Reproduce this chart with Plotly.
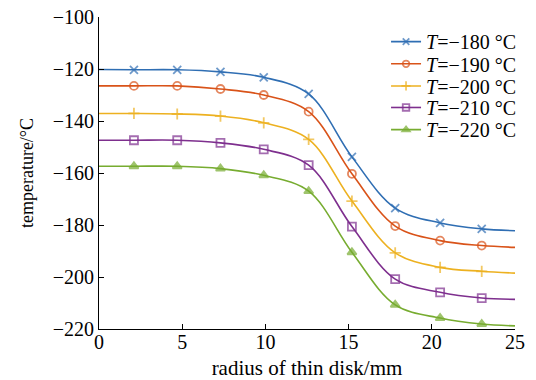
import plotly.graph_objects as go

radius = [0, 2.1, 4.7, 7.3, 9.9, 12.6, 15.2, 17.8, 20.5, 23.0, 25]
t180 = [-120.2, -120.3, -120.3, -121.1, -123.2, -129.6, -153.8, -173.5, -179.2, -181.5, -182.2]
t190 = [-126.5, -126.5, -126.5, -127.7, -130.0, -136.4, -160.3, -180.4, -186.0, -187.9, -188.6]
t200 = [-137.1, -137.1, -137.3, -138.1, -140.7, -147.1, -170.8, -190.7, -196.3, -197.8, -198.5]
t210 = [-147.4, -147.4, -147.4, -148.4, -150.9, -157.0, -180.6, -200.8, -205.9, -208.1, -208.6]
t220 = [-157.4, -157.4, -157.4, -158.3, -160.9, -167.0, -190.5, -210.7, -215.8, -218.1, -218.8]
labels = ["180", "190", "200", "210", "220"]
series = [t180, t190, t200, t210, t220]
colors = ["#2f6eb3", "#d95319", "#edb120", "#7e2f8e", "#77ac30"]
symbols = ["x-thin-open", "circle-open", "cross-thin-open", "square-open", "triangle-up"]
ytickvals = [-220, -200, -180, -160, -140, -120, -100]
xtickvals = [0, 5, 10, 15, 20, 25]

FONT = "Liberation Serif"
TICK_FS = 20
LEG_FS = 20
legend_y = [0.921, 0.850, 0.779, 0.710, 0.639]

fig = go.Figure()
layout_legends = {}
for i, (lab, ys, c, s) in enumerate(zip(labels, series, colors, symbols)):
    n = len(radius)
    sizes = [0] + [8] * (n - 2) + [0]
    lname = "legend" if i == 0 else f"legend{i + 1}"
    fig.add_trace(go.Scatter(
        x=radius, y=ys, mode="lines+markers",
        name=f"<i>T</i>=−{lab} °C",
        legend=lname,
        line=dict(color=c, width=1.6, shape="spline", smoothing=1.0),
        marker=dict(symbol=s, size=sizes, color=c,
                    line=dict(color=c, width=1.8)),
    ))
    layout_legends[lname] = dict(
        x=0.69, y=legend_y[i], xanchor="left", yanchor="middle",
        font=dict(family=FONT, size=LEG_FS, color="black"),
        bgcolor="rgba(255,255,255,0)", itemwidth=30,
    )

fig.update_layout(
    width=528, height=372,
    margin=dict(l=91, r=21, t=9, b=51, autoexpand=False),
    paper_bgcolor="white", plot_bgcolor="white",
    font=dict(family=FONT, size=TICK_FS, color="black"),
    showlegend=True,
    xaxis=dict(range=[0, 25], tickvals=xtickvals,
               ticks="inside", ticklen=5, tickcolor="black",
               showline=True, linecolor="black", linewidth=1,
               showgrid=False, zeroline=False, automargin=False,
               ticklabeloverflow="allow", ticklabelstandoff=-5,
               tickfont=dict(family=FONT, size=TICK_FS),
               title=dict(text="radius of thin disk/mm", standoff=13,
                          font=dict(family=FONT, size=21))),
    yaxis=dict(range=[-220, -100], tickvals=ytickvals,
               ticktext=[f"−{abs(v)}" for v in ytickvals],
               ticks="inside", ticklen=5, tickcolor="black",
               showline=True, linecolor="black", linewidth=1,
               showgrid=False, zeroline=False, automargin=False,
               ticklabeloverflow="allow",
               tickfont=dict(family=FONT, size=TICK_FS),
               title=dict(text="temperature/°C", standoff=14,
                          font=dict(family=FONT, size=18))),
    **layout_legends,
)
fig.write_html("out.html")
